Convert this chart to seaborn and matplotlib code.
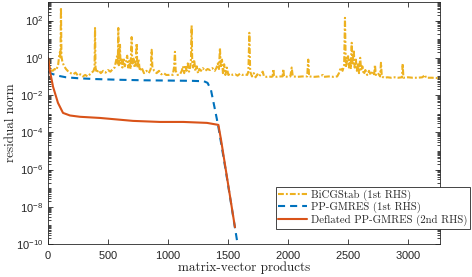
import numpy as np
import pandas as pd
import matplotlib
matplotlib.use("Agg")
import matplotlib.pyplot as plt
import matplotlib.ticker as mticker
import seaborn as sns

### DATA ###
# BiCGStab (1st RHS)
bicg_x = [0, 12, 25, 40, 55, 70, 85, 95, 100, 104, 108, 112, 120, 135, 150, 170, 190, 210, 230, 250,
          270, 290, 310, 330, 350, 365, 380, 388, 392, 396, 405, 420, 440, 460, 480, 500, 520, 540, 555, 565,
          575, 582, 586, 590, 596, 600, 604, 612, 620, 630, 640, 650, 660, 668, 678, 688, 697, 702, 712, 722,
          730, 739, 744, 755, 765, 780, 800, 820, 840, 856, 864, 870, 885, 905, 925, 945, 965, 985, 1005, 1025,
          1040, 1050, 1058, 1064, 1080, 1100, 1115, 1125, 1135, 1145, 1155, 1165, 1175, 1185, 1192, 1197, 1202, 1210, 1218, 1228,
          1240, 1250, 1262, 1275, 1290, 1310, 1330, 1350, 1370, 1390, 1405, 1415, 1425, 1433, 1440, 1450, 1458, 1468, 1478, 1490,
          1503, 1520, 1540, 1560, 1580, 1600, 1620, 1640, 1660, 1670, 1678, 1685, 1700, 1715, 1730, 1745, 1760, 1775, 1790, 1800,
          1820, 1840, 1860, 1872, 1878, 1884, 1910, 1940, 1955, 1961, 1967, 2000, 2020, 2031, 2040, 2080, 2120, 2160, 2169, 2176,
          2220, 2260, 2292, 2300, 2340, 2380, 2410, 2425, 2440, 2455, 2468, 2475, 2482, 2490, 2500, 2508, 2518, 2524, 2531, 2538,
          2548, 2556, 2566, 2574, 2584, 2592, 2602, 2610, 2620, 2632, 2645, 2660, 2675, 2690, 2705, 2718, 2725, 2732, 2750, 2768,
          2775, 2782, 2800, 2830, 2860, 2890, 2920, 2950, 2956, 2962, 3000, 3040, 3080, 3120, 3142, 3150, 3200, 3270]
bicg_y = [0.9, 0.35, 0.22, 0.2, 0.25, 0.22, 0.45, 1.6, 2.0, 0.9, 500, 1.2, 0.6, 0.35, 0.25, 0.18, 0.15, 0.13, 0.16, 0.11,
          0.13, 0.1, 0.12, 0.1, 0.13, 0.16, 0.2, 0.3, 40, 0.3, 0.16, 0.22, 0.15, 0.2, 0.16, 0.22, 0.18, 0.25, 0.3, 0.6,
          1.2, 0.5, 40, 0.4, 1.5, 5, 0.5, 0.8, 0.3, 1.0, 0.35, 0.6, 1.3, 0.3, 0.7, 0.25, 13, 0.4, 0.9, 0.3,
          0.5, 6, 0.3, 0.8, 0.2, 0.3, 0.15, 0.2, 0.15, 0.25, 2.7, 0.3, 0.2, 0.15, 0.2, 0.13, 0.15, 0.12, 0.12, 0.13,
          0.12, 0.3, 2.1, 0.2, 0.12, 0.13, 0.2, 0.35, 0.15, 0.4, 0.2, 0.5, 0.18, 0.3, 0.9, 55, 0.6, 0.3, 0.8, 0.2,
          0.35, 0.15, 0.25, 0.2, 0.28, 0.2, 0.25, 0.22, 0.28, 0.2, 0.3, 0.5, 0.25, 3.4, 0.3, 0.8, 0.15, 0.45, 0.12, 0.3,
          0.12, 0.14, 0.12, 0.13, 0.11, 0.14, 0.12, 0.13, 0.12, 0.18, 22, 0.18, 0.1, 0.15, 0.09, 0.13, 0.1, 0.14, 0.18, 0.1,
          0.095, 0.1, 0.095, 0.1, 0.25, 0.1, 0.095, 0.1, 0.1, 0.25, 0.1, 0.095, 0.1, 0.3, 0.1, 0.095, 0.1, 0.1, 0.8, 0.1,
          0.095, 0.1, 0.12, 0.095, 0.1, 0.095, 0.1, 0.15, 0.3, 0.2, 0.4, 140, 0.3, 0.6, 1.4, 0.3, 0.8, 0.25, 6.4, 0.4,
          2.7, 0.3, 0.8, 0.2, 0.5, 0.15, 1.0, 0.2, 0.35, 0.13, 0.22, 0.12, 0.2, 0.12, 0.18, 0.13, 0.42, 0.12, 0.15, 0.1,
          0.54, 0.1, 0.085, 0.09, 0.085, 0.09, 0.085, 0.09, 0.48, 0.085, 0.09, 0.085, 0.085, 0.09, 0.12, 0.085, 0.085, 0.08]

# PP-GMRES (1st RHS)
gm_x = [0, 30, 80, 150, 250, 400, 600, 800, 1000, 1200, 1300, 1330, 1358, 1392, 1417, 1480, 1575, 1590]
gm_y = [0.18, 0.14, 0.11, 0.09, 0.08, 0.072, 0.066, 0.062, 0.06, 0.058, 0.055, 0.045, 0.019, 1.6e-3,
        2.5e-4, 1e-6, 1.6e-10, 5e-11]

# Deflated PP-GMRES (2nd RHS)
dfl_x = [0, 17, 42, 83, 125, 183, 267, 433, 708, 933, 1128, 1325, 1420, 1442, 1558]
dfl_y = [1.0, 0.18, 0.028, 3.8e-3, 1.1e-3, 8e-4, 6.8e-4, 5.9e-4, 4.1e-4, 3.6e-4, 3.6e-4, 3.2e-4, 2.5e-4,
         4e-5, 8e-10]

labels = ["BiCGStab (1st RHS)", "PP-GMRES (1st RHS)", "Deflated PP-GMRES (2nd RHS)"]
colors = ["#EDB120", "#0072BD", "#D95319"]

### STYLE ###
sns.set_style("ticks")
plt.rcParams["font.family"] = ["Liberation Sans", "DejaVu Sans"]
plt.rcParams["mathtext.fontset"] = "custom"
plt.rcParams["mathtext.rm"] = "Liberation Sans"
plt.rcParams["mathtext.it"] = "Liberation Sans:italic"
plt.rcParams["axes.formatter.use_mathtext"] = True
serif = ["cmr10", "DejaVu Serif"]

fig = plt.figure(figsize=(4.72, 2.77), dpi=100)
ax = fig.add_axes([0.1017, 0.119, 0.8305, 0.874])

d1 = pd.DataFrame({"x": bicg_x, "y": bicg_y})
d2 = pd.DataFrame({"x": gm_x, "y": gm_y})
d3 = pd.DataFrame({"x": dfl_x, "y": dfl_y})

sns.lineplot(x="x", y="y", data=d1, ax=ax, color=colors[0], lw=1.5, estimator=None,
             linestyle=(0, (2.8, 1.0, 0.9, 1.0)), label=labels[0])
sns.lineplot(x="x", y="y", data=d2, ax=ax, color=colors[1], lw=1.5, estimator=None,
             linestyle=(0, (3.4, 2.4)), label=labels[1])
sns.lineplot(x="x", y="y", data=d3, ax=ax, color=colors[2], lw=1.5, estimator=None,
             label=labels[2])

ax.set_yscale("log")
ax.set_xlim(0, 3267)
ax.set_ylim(1e-10, 1e3)
ax.set_xticks(np.arange(0, 3001, 500))
ax.yaxis.set_major_locator(mticker.FixedLocator([10.0**k for k in range(-10, 3, 2)]))
ax.yaxis.set_minor_locator(mticker.LogLocator(base=10, subs=np.arange(1, 10), numticks=100))
ax.yaxis.set_minor_formatter(mticker.NullFormatter())

ax.tick_params(which="both", direction="in", top=True, right=True, labelsize=8,
               colors="#262626", width=0.6)
ax.tick_params(which="major", length=3.5)
ax.tick_params(which="minor", length=2)
for s in ax.spines.values():
    s.set_color("#262626")
    s.set_linewidth(0.6)

ax.set_xlabel("matrix-vector products", family=serif, fontsize=9.5)
ax.set_ylabel("residual norm", family=serif, fontsize=9.5)
ax.xaxis.set_label_coords(0.5, -0.071)
ax.yaxis.set_label_coords(-0.079, 0.5)

leg = ax.legend(loc="lower right", bbox_to_anchor=(1.0765, 0.062), borderaxespad=0,
                prop={"family": serif, "size": 7.8}, handlelength=2.6, fancybox=False,
                framealpha=1, edgecolor="#262626", borderpad=0.25, labelspacing=0.15,
                handletextpad=0.4)
leg.get_frame().set_linewidth(0.6)

plt.savefig("out.png", dpi=100)
